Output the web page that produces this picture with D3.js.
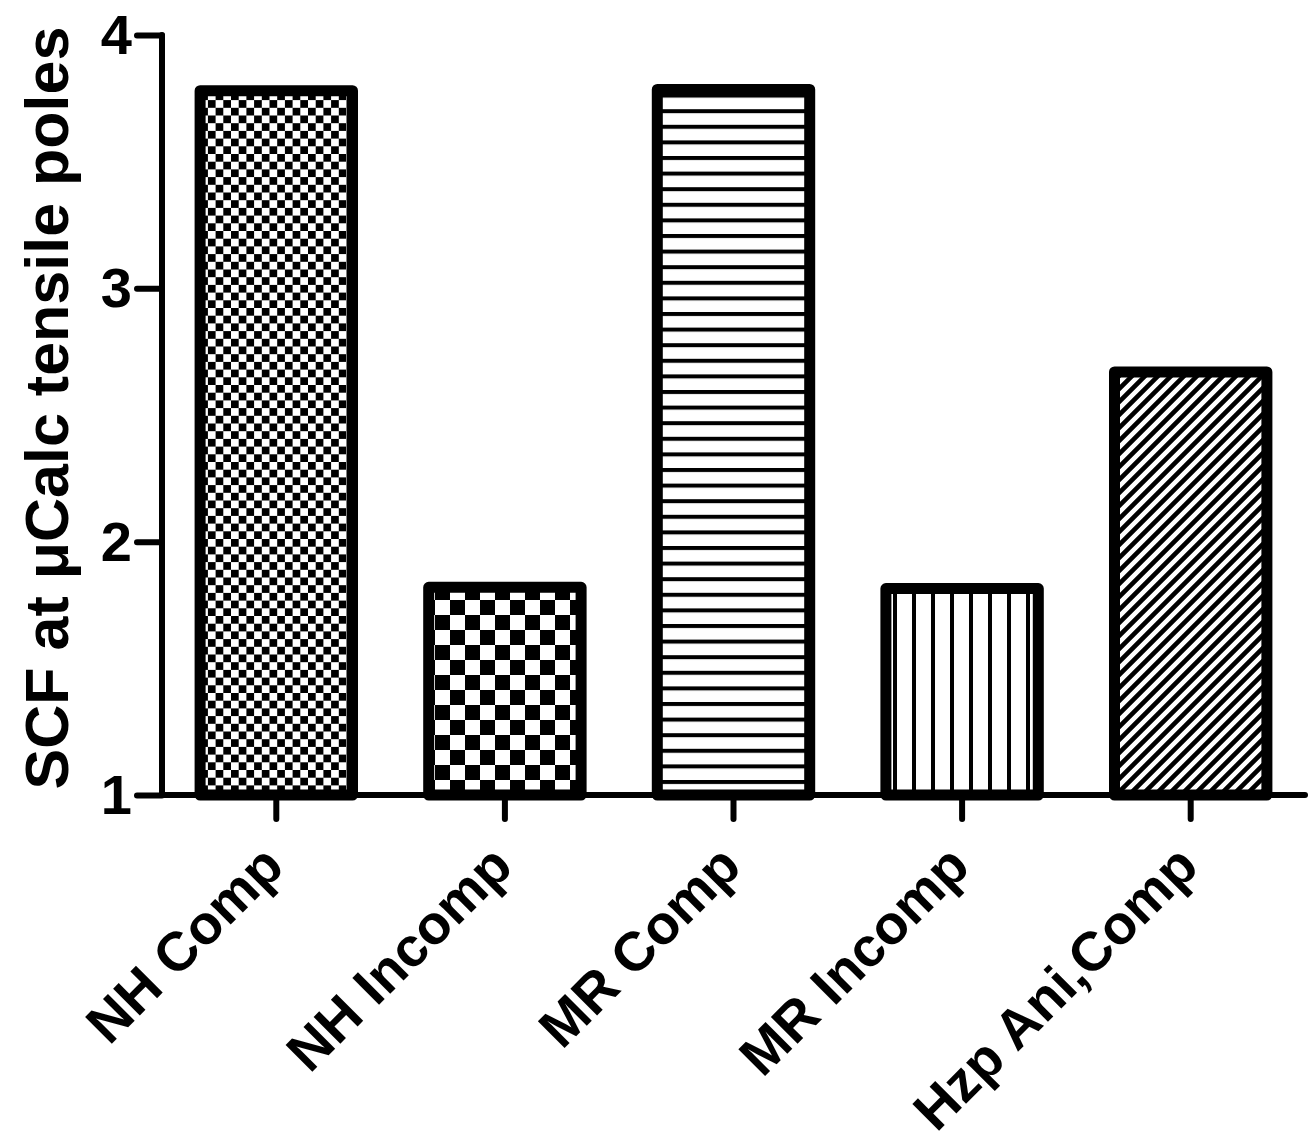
<!DOCTYPE html>
<html>
<head>
<meta charset="utf-8">
<script src="https://cdn.jsdelivr.net/npm/d3@7"></script>
<style>
  html, body { margin: 0; padding: 0; background: #fff; }
  svg { display: block; }
  text { font-family: "Liberation Sans", Arial, sans-serif; font-weight: bold; fill: #000; }
</style>
</head>
<body>
<svg id="chart" width="1310" height="1148"></svg>
<script>
const categories = ["NH Comp", "NH Incomp", "MR Comp", "MR Incomp", "Hzp Ani,Comp"];
const values = [3.78, 1.82, 3.785, 1.815, 2.67];
const yTicks = [1, 2, 3, 4];
const patterns = ["fineCheck", "coarseCheck", "hLines", "vLines", "diag"];
const yTitle = "SCF at \u03bcCalc tensile poles";

const svg = d3.select("#chart");
const margin = { left: 162, right: 1305, top: 35, bottom: 795 };

const x = d3.scaleBand().domain(categories).range([margin.left, margin.right])
  .paddingInner(1/3).paddingOuter(1/6);
const y = d3.scaleLinear().domain([1, 4]).range([margin.bottom, margin.top]);

// patterns
const defs = svg.append("defs");
function pat(id, w, h) {
  const p = defs.append("pattern").attr("id", id).attr("patternUnits", "userSpaceOnUse")
    .attr("width", w).attr("height", h);
  p.append("rect").attr("width", w).attr("height", h).attr("fill", "#fff");
  return p;
}
{
  const c = 7.7;
  const p = pat("fineCheck", 2 * c, 2 * c);
  p.append("rect").attr("x", 0).attr("y", 0).attr("width", c).attr("height", c).attr("fill", "#000");
  p.append("rect").attr("x", c).attr("y", c).attr("width", c).attr("height", c).attr("fill", "#000");
}
{
  const c = 15;
  const p = pat("coarseCheck", 2 * c, 2 * c);
  p.append("rect").attr("x", 0).attr("y", 0).attr("width", c).attr("height", c).attr("fill", "#000");
  p.append("rect").attr("x", c).attr("y", c).attr("width", c).attr("height", c).attr("fill", "#000");
}
{
  const p = pat("hLines", 20, 15.6);
  p.append("rect").attr("x", 0).attr("y", 0).attr("width", 20).attr("height", 4).attr("fill", "#000");
}
{
  const p = pat("vLines", 19, 20);
  p.append("rect").attr("x", 0).attr("y", 0).attr("width", 4).attr("height", 20).attr("fill", "#000");
}
{
  const s = 13;
  const p = pat("diag", s, s);
  p.append("path").attr("d", `M${-s/2},${s/2} L${s/2},${-s/2} M0,${s} L${s},0 M${s/2},${s*1.5} L${s*1.5},${s/2}`)
    .attr("stroke", "#000").attr("stroke-width", 4.6);
}

// bars
svg.append("g").selectAll("rect").data(categories).join("rect")
  .attr("x", d => x(d))
  .attr("y", (d, i) => y(values[i]))
  .attr("width", x.bandwidth())
  .attr("height", (d, i) => y(1) - y(values[i]))
  .attr("fill", (d, i) => `url(#${patterns[i]})`)
  .attr("stroke", "#000")
  .attr("stroke-width", 11)
  .attr("stroke-linejoin", "round");

// y axis
const yAxis = d3.axisLeft(y).tickValues(yTicks).tickFormat(d3.format("d")).tickSize(25).tickPadding(5);
const gy = svg.append("g").attr("transform", `translate(${margin.left},0)`).call(yAxis);
gy.select(".domain").remove();
gy.append("line").attr("x1", 0).attr("x2", 0).attr("y1", margin.top).attr("y2", margin.bottom)
  .attr("stroke", "#000").attr("stroke-width", 6).attr("stroke-linecap", "round");
gy.selectAll(".tick line").attr("stroke", "#000").attr("stroke-width", 6).attr("stroke-linecap", "round");
gy.selectAll(".tick text").attr("font-size", 56).attr("dy", "0.33em").attr("fill", "#000");

// x axis
const xAxis = d3.axisBottom(x).tickSize(24).tickPadding(0);
const gx = svg.append("g").attr("transform", `translate(0,${margin.bottom})`).call(xAxis);
gx.select(".domain").remove();
gx.append("line").attr("x1", margin.left).attr("x2", margin.right).attr("y1", 0).attr("y2", 0)
  .attr("stroke", "#000").attr("stroke-width", 6).attr("stroke-linecap", "round");
gx.selectAll(".tick line").attr("stroke", "#000").attr("stroke-width", 6).attr("stroke-linecap", "round");
gx.selectAll(".tick text")
  .attr("font-size", 55)
  .attr("text-anchor", "end")
  .attr("dy", 0)
  .attr("y", 0)
  .attr("transform", "translate(10,74) rotate(-45)")
  .attr("fill", "#000");

// y title
svg.append("text")
  .attr("transform", `translate(68,408) rotate(-90)`)
  .attr("text-anchor", "middle")
  .attr("font-size", 61)
  .text(yTitle);
</script>
</body>
</html>
